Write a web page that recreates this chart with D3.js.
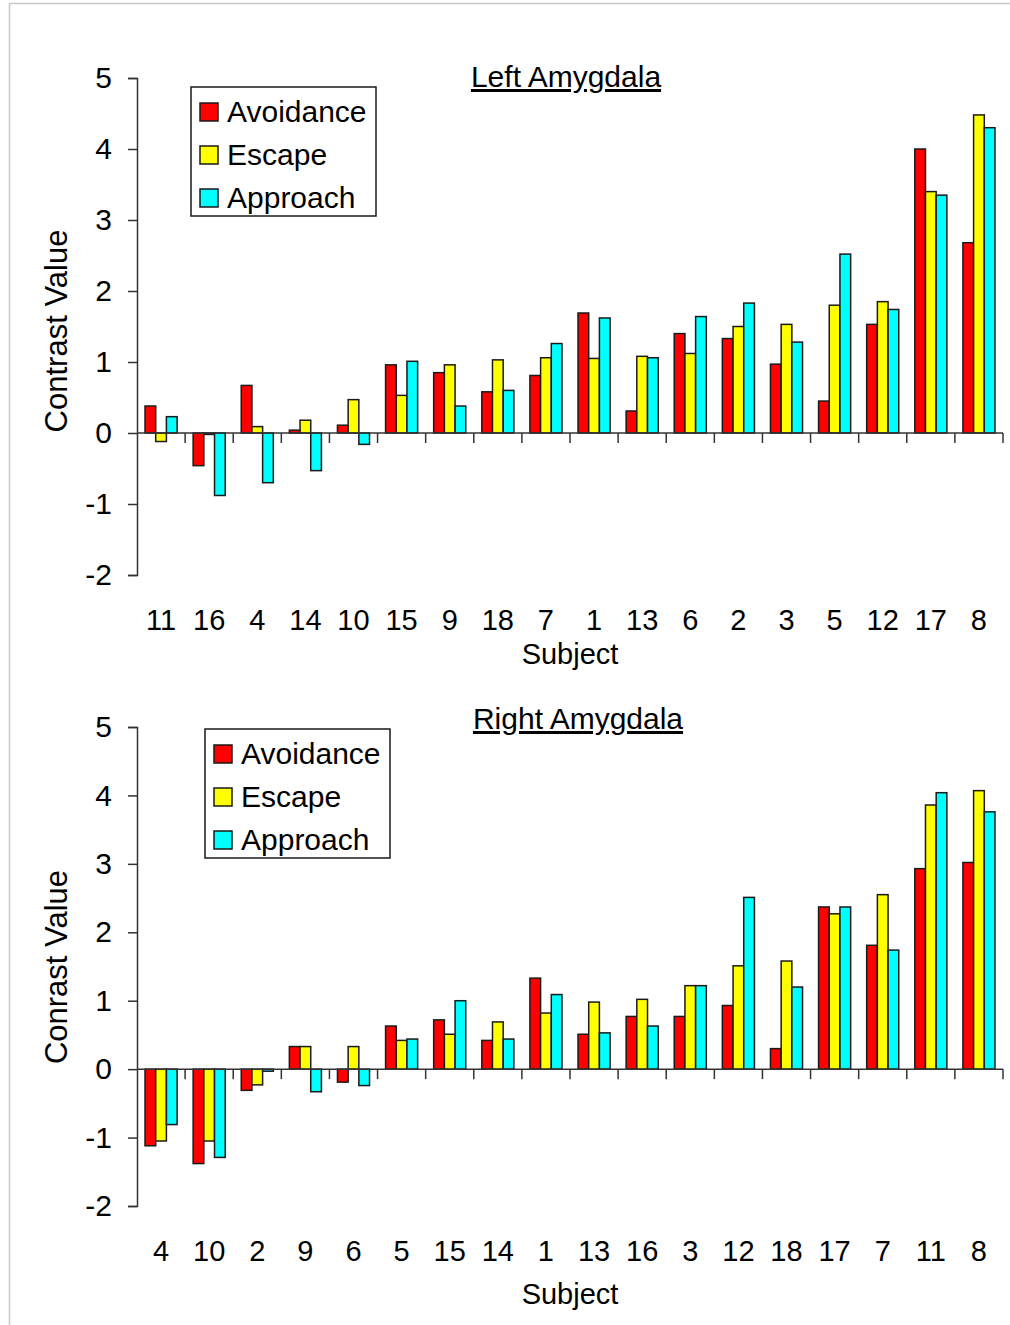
<!DOCTYPE html>
<html>
<head>
<meta charset="utf-8">
<script src="https://cdn.jsdelivr.net/npm/d3@7"></script>
<style>
  body { margin: 0; background: #fff; }
  svg text { font-family: "Liberation Sans", Arial, sans-serif; fill: #000; }
</style>
</head>
<body>
<div id="chart"></div>
<script>
// series shared by both panels
var seriesNames = ["Avoidance", "Escape", "Approach"];
var seriesColors = ["#ff0000", "#ffff00", "#00ffff"];
var yTicks = [-2, -1, 0, 1, 2, 3, 4, 5];

// Left amygdala
var leftSubjects = ["11", "16", "4", "14", "10", "15", "9", "18", "7", "1", "13", "6", "2", "3", "5", "12", "17", "8"];
var leftAvoidance = [0.38, -0.46, 0.67, 0.04, 0.11, 0.96, 0.85, 0.58, 0.81, 1.69, 0.31, 1.40, 1.33, 0.97, 0.45, 1.53, 4.00, 2.68];
var leftEscape = [-0.12, -0.02, 0.09, 0.18, 0.47, 0.53, 0.96, 1.03, 1.06, 1.05, 1.08, 1.12, 1.50, 1.53, 1.80, 1.85, 3.40, 4.48];
var leftApproach = [0.23, -0.88, -0.70, -0.53, -0.16, 1.01, 0.38, 0.60, 1.26, 1.62, 1.06, 1.64, 1.83, 1.28, 2.52, 1.74, 3.35, 4.30];

// Right amygdala
var rightSubjects = ["4", "10", "2", "9", "6", "5", "15", "14", "1", "13", "16", "3", "12", "18", "17", "7", "11", "8"];
var rightAvoidance = [-1.12, -1.38, -0.31, 0.33, -0.19, 0.63, 0.72, 0.42, 1.33, 0.51, 0.77, 0.77, 0.93, 0.30, 2.37, 1.81, 2.93, 3.02];
var rightEscape = [-1.05, -1.05, -0.23, 0.33, 0.33, 0.42, 0.51, 0.69, 0.82, 0.98, 1.02, 1.22, 1.51, 1.58, 2.27, 2.55, 3.86, 4.07];
var rightApproach = [-0.81, -1.29, -0.03, -0.33, -0.24, 0.44, 1.00, 0.44, 1.09, 0.53, 0.63, 1.22, 2.51, 1.20, 2.37, 1.74, 4.04, 3.76];

var svg = d3.select("#chart").append("svg")
    .attr("width", 1010)
    .attr("height", 1325);

// light frame round the figure
svg.append("path")
    .attr("d", "M9.5,1325V3.5H1010")
    .attr("fill", "none")
    .attr("stroke", "#c8c8c8")
    .attr("stroke-width", 1.5);

function drawPanel(p) {
    var x = d3.scaleBand()
        .domain(p.subjects)
        .range([137, 1003])
        .paddingInner(1 / 3)
        .paddingOuter(1 / 6);
    var xs = d3.scaleBand()
        .domain(seriesNames)
        .range([0, x.bandwidth()]);
    var y = d3.scaleLinear()
        .domain([-2, 5])
        .range([p.bottom, p.top]);

    var g = svg.append("g");

    var rows = [];
    p.subjects.forEach(function (s, i) {
        p.values.forEach(function (vals, k) {
            rows.push({subject: s, series: seriesNames[k], color: seriesColors[k], value: vals[i]});
        });
    });

    g.selectAll("rect.bar")
        .data(rows)
        .enter().append("rect")
        .attr("class", "bar")
        .attr("x", function (d) { return x(d.subject) + xs(d.series); })
        .attr("y", function (d) { return y(Math.max(0, d.value)); })
        .attr("width", xs.bandwidth())
        .attr("height", function (d) { return Math.abs(y(d.value) - y(0)); })
        .attr("fill", function (d) { return d.color; })
        .attr("stroke", "#1a1a1a")
        .attr("stroke-width", 1.5);

    // y axis
    var yAxis = g.append("g")
        .attr("transform", "translate(137,0)")
        .call(d3.axisLeft(y).tickValues(yTicks).tickSize(9).tickSizeOuter(9).tickPadding(16)
            .tickFormat(function (d) { return String(d); }));
    yAxis.selectAll("path, line").attr("stroke", "#333").attr("stroke-width", 1.5);
    yAxis.selectAll("text").attr("font-size", 30).attr("font-family", "Liberation Sans, Arial, sans-serif").attr("fill", "#000");

    // x axis at zero with ticks on category borders
    g.append("line")
        .attr("x1", x.range()[0]).attr("x2", x.range()[1])
        .attr("y1", y(0)).attr("y2", y(0))
        .attr("stroke", "#333").attr("stroke-width", 1.5);
    g.selectAll("line.xtick")
        .data(p.subjects)
        .enter().append("line")
        .attr("class", "xtick")
        .attr("x1", function (d) { return x(d) + x.bandwidth() + (x.step() - x.bandwidth()) / 2; })
        .attr("x2", function (d) { return x(d) + x.bandwidth() + (x.step() - x.bandwidth()) / 2; })
        .attr("y1", y(0))
        .attr("y2", y(0) + 10)
        .attr("stroke", "#333").attr("stroke-width", 1.5);

    g.selectAll("text.cat")
        .data(p.subjects)
        .enter().append("text")
        .attr("class", "cat")
        .attr("x", function (d) { return x(d) + x.bandwidth() / 2; })
        .attr("y", p.bottom + 55)
        .attr("text-anchor", "middle")
        .attr("font-size", 29)
        .text(function (d) { return d; });

    g.append("text")
        .attr("x", 570)
        .attr("y", p.subjectY)
        .attr("text-anchor", "middle")
        .attr("font-size", 29)
        .text("Subject");

    g.append("text")
        .attr("transform", "translate(67," + p.yLabelY + ") rotate(-90)")
        .attr("text-anchor", "middle")
        .attr("font-size", 31)
        .text(p.yLabel);

    g.append("text")
        .attr("x", p.titleX)
        .attr("y", p.titleY)
        .attr("text-anchor", "middle")
        .attr("font-size", 30)
        .attr("text-decoration", "underline")
        .text(p.title);

    // legend
    var lg = g.append("g").attr("transform", "translate(" + p.legendX + "," + p.legendY + ")");
    lg.append("rect")
        .attr("width", 185).attr("height", 129)
        .attr("fill", "#fff").attr("stroke", "#1a1a1a").attr("stroke-width", 1.5);
    seriesNames.forEach(function (name, k) {
        lg.append("rect")
            .attr("x", 9).attr("y", 16 + k * 43)
            .attr("width", 18).attr("height", 18)
            .attr("fill", seriesColors[k]).attr("stroke", "#1a1a1a").attr("stroke-width", 1.5);
        lg.append("text")
            .attr("x", 36).attr("y", 35 + k * 43)
            .attr("font-size", 30)
            .text(name);
    });
}

drawPanel({
    subjects: leftSubjects,
    values: [leftAvoidance, leftEscape, leftApproach],
    top: 78, bottom: 575,
    title: "Left Amygdala", titleX: 566, titleY: 87,
    yLabel: "Contrast Value", yLabelY: 331,
    subjectY: 664,
    legendX: 191, legendY: 87
});

drawPanel({
    subjects: rightSubjects,
    values: [rightAvoidance, rightEscape, rightApproach],
    top: 727, bottom: 1206,
    title: "Right Amygdala", titleX: 578, titleY: 729,
    yLabel: "Conrast Value", yLabelY: 967,
    subjectY: 1304,
    legendX: 205, legendY: 729
});
</script>
</body>
</html>
